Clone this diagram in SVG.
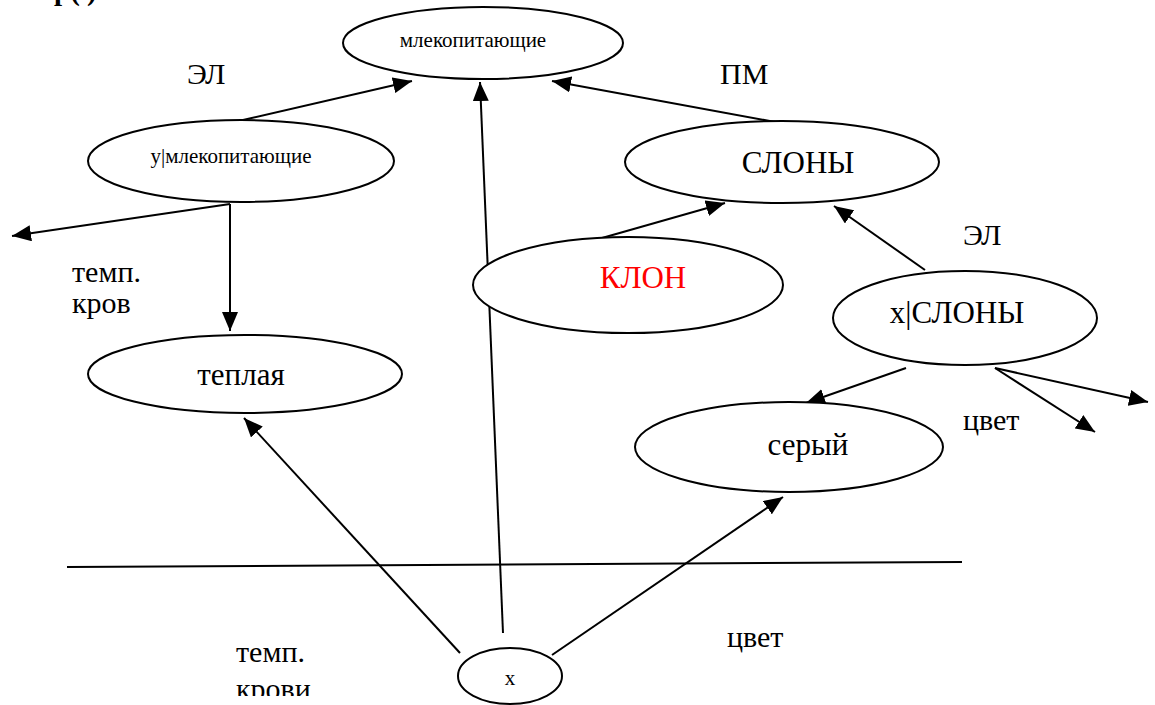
<svg xmlns="http://www.w3.org/2000/svg" width="1155" height="705" viewBox="0 0 1155 705" font-family="'Liberation Serif', 'DejaVu Serif', 'Times New Roman', serif">
  <style>
    .node { fill: #fff; stroke: #000; stroke-width: 2; }
    .edge { fill: none; stroke: #000; stroke-width: 2; }
    text { fill: #000; }
    .sm { font-size: 21px; text-anchor: middle; }
    .lg { font-size: 31px; text-anchor: middle; }
    .lbl { font-size: 30px; }
  </style>
  <defs>
    <marker id="arrow" markerUnits="userSpaceOnUse" markerWidth="20" markerHeight="16" refX="19" refY="8" orient="auto">
      <path d="M0,0 L19,8 L0,16 z" fill="#000"/>
    </marker>
    <clipPath id="pageClip">
      <rect x="0" y="0" width="1155" height="696"/>
    </clipPath>
  </defs>

  <rect width="1155" height="705" fill="#fff"/>

  <!-- heading, partially above the page -->
  <text x="54" y="0" font-size="29" font-weight="bold">р( )</text>

  <!-- connectors -->
  <g id="connectors">
    <line class="edge" x1="243" y1="120" x2="412" y2="81" marker-end="url(#arrow)"/>
    <line class="edge" x1="503" y1="633" x2="480" y2="82" marker-end="url(#arrow)"/>
    <line class="edge" x1="775" y1="122" x2="552" y2="81" marker-end="url(#arrow)"/>
    <line class="edge" x1="230" y1="204" x2="12" y2="236" marker-end="url(#arrow)"/>
    <line class="edge" x1="230" y1="204" x2="230" y2="331" marker-end="url(#arrow)"/>
    <line class="edge" x1="602" y1="238" x2="725" y2="203" marker-end="url(#arrow)"/>
    <line class="edge" x1="925" y1="270" x2="834" y2="206" marker-end="url(#arrow)"/>
    <line class="edge" x1="906" y1="368" x2="806" y2="403" marker-end="url(#arrow)"/>
    <line class="edge" x1="995" y1="368" x2="1148" y2="402" marker-end="url(#arrow)"/>
    <line class="edge" x1="995" y1="368" x2="1095" y2="432" marker-end="url(#arrow)"/>
    <line class="edge" x1="460" y1="653" x2="244" y2="418" marker-end="url(#arrow)"/>
    <line class="edge" x1="552" y1="655" x2="783" y2="497" marker-end="url(#arrow)"/>
    <line class="edge" x1="67" y1="567" x2="962" y2="562"/>
  </g>

  <!-- nodes -->
  <g id="mammals">
    <ellipse class="node" cx="483" cy="43" rx="140" ry="36"/>
    <text class="sm" x="473" y="47">млекопитающие</text>
  </g>
  <g id="y-mammals">
    <ellipse class="node" cx="241" cy="161" rx="153" ry="41"/>
    <text class="sm" x="231" y="163">у|млекопитающие</text>
  </g>
  <g id="elephants">
    <ellipse class="node" cx="782" cy="162" rx="157" ry="41"/>
    <text class="lg" x="798" y="173">СЛОНЫ</text>
  </g>
  <g id="clone">
    <ellipse class="node" cx="628" cy="285" rx="155" ry="48"/>
    <text class="lg" x="643" y="288" fill="#f00" style="fill:#f00">КЛОН</text>
  </g>
  <g id="x-elephants">
    <ellipse class="node" cx="965" cy="318" rx="132" ry="47"/>
    <text class="lg" x="957" y="323">x|СЛОНЫ</text>
  </g>
  <g id="warm">
    <ellipse class="node" cx="245" cy="374" rx="157" ry="39"/>
    <text class="lg" x="241" y="385">теплая</text>
  </g>
  <g id="grey">
    <ellipse class="node" cx="789" cy="447" rx="154" ry="45"/>
    <text class="lg" x="808" y="455">серый</text>
  </g>
  <g id="x">
    <ellipse class="node" cx="510" cy="676" rx="52" ry="28"/>
    <text class="sm" x="510" y="685">x</text>
  </g>

  <!-- edge labels -->
  <g id="labels">
    <text class="lbl" x="187" y="84">ЭЛ</text>
    <text class="lbl" x="720" y="84">ПМ</text>
    <text class="lbl" x="963" y="245">ЭЛ</text>
    <text class="lbl" x="72" y="282">темп.</text>
    <text class="lbl" x="72" y="313">кров</text>
    <text class="lbl" x="963" y="430">цвет</text>
    <text class="lbl" x="727" y="647">цвет</text>
    <g clip-path="url(#pageClip)">
      <text class="lbl" x="236" y="662">темп.</text>
      <text class="lbl" x="236" y="699">крови</text>
    </g>
  </g>
</svg>
